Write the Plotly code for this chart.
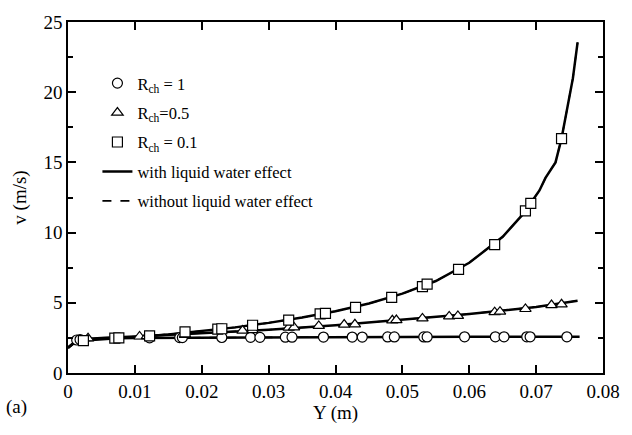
import plotly.graph_objects as go

# ---------------- data ----------------
# R_ch = 0.1 (squares)
sq_line_x = [0, 0.001, 0.002, 0.005, 0.01, 0.015, 0.02, 0.025, 0.03, 0.035, 0.04, 0.045,
             0.05, 0.055, 0.06, 0.065, 0.068, 0.0705, 0.0714, 0.0729, 0.0738, 0.0746, 0.0755, 0.0762]
sq_line_y = [1.8, 2.15, 2.3, 2.42, 2.57, 2.75, 2.98, 3.25, 3.57, 3.95, 4.4, 4.95,
             5.65, 6.55, 7.85, 9.7, 11.3, 13.0, 13.9, 15.0, 16.7, 18.7, 21.0, 23.55]
sq_mk_x = [0.0023, 0.0070, 0.0076, 0.0122, 0.0175, 0.0224, 0.0230, 0.0276, 0.0330, 0.0377,
           0.0385, 0.0430, 0.0484, 0.0530, 0.0537, 0.0584, 0.0638, 0.0684, 0.0692, 0.0738]
sq_mk_y = [2.30, 2.49, 2.50, 2.65, 2.93, 3.12, 3.15, 3.40, 3.77, 4.21,
           4.25, 4.68, 5.38, 6.15, 6.33, 7.38, 9.15, 11.55, 12.08, 16.70]

# R_ch = 0.5 (triangles)
tr_line_x = [0, 0.001, 0.002, 0.005, 0.01, 0.02, 0.03, 0.04, 0.05, 0.06, 0.07, 0.0762]
tr_line_y = [1.8, 2.2, 2.4, 2.5, 2.6, 2.82, 3.08, 3.4, 3.8, 4.2, 4.7, 5.15]
tr_mk_x = [0.0030, 0.0107, 0.0118, 0.0175, 0.0261, 0.0276, 0.0330, 0.0338, 0.0375, 0.0413, 0.0429,
           0.0485, 0.0491, 0.0530, 0.0570, 0.0583, 0.0638, 0.0646, 0.0684, 0.0723, 0.0738]
tr_mk_y = [2.47, 2.60, 2.62, 2.72, 3.02, 3.05, 3.23, 3.25, 3.35, 3.45, 3.47,
           3.75, 3.77, 3.89, 4.03, 4.07, 4.33, 4.37, 4.56, 4.84, 4.89]

# R_ch = 1 (circles)
ci_line_x = [0, 0.001, 0.002, 0.005, 0.01, 0.02, 0.03, 0.04, 0.05, 0.06, 0.07, 0.0765]
ci_line_y = [1.8, 2.2, 2.38, 2.45, 2.5, 2.53, 2.55, 2.56, 2.57, 2.58, 2.58, 2.58]
ci_mk_x = [0.0013, 0.0018, 0.0122, 0.0167, 0.0171, 0.0230, 0.0273, 0.0287, 0.0325, 0.0335, 0.0382,
           0.0425, 0.0440, 0.0478, 0.0488, 0.0532, 0.0537, 0.0593, 0.0639, 0.0652, 0.0686, 0.0691, 0.0746]
ci_mk_y = [2.35, 2.38, 2.50, 2.52, 2.52, 2.53, 2.54, 2.54, 2.55, 2.55, 2.56,
           2.56, 2.56, 2.57, 2.57, 2.57, 2.57, 2.58, 2.58, 2.58, 2.58, 2.58, 2.58]

x_ticks = [0, 0.01, 0.02, 0.03, 0.04, 0.05, 0.06, 0.07, 0.08]
x_tick_labels = ["0", "0.01", "0.02", "0.03", "0.04", "0.05", "0.06", "0.07", "0.08"]
y_ticks = [0, 5, 10, 15, 20, 25]

FONT = "Liberation Serif"
fig = go.Figure()

lines = [(ci_line_x, ci_line_y), (tr_line_x, tr_line_y), (sq_line_x, sq_line_y)]
# dashed: without liquid water effect
for i, (lx, ly) in enumerate(lines):
    fig.add_trace(go.Scatter(x=lx, y=ly, mode="lines",
                             line=dict(color="black", width=1.6, dash="dash"),
                             name="without liquid water effect", legendgroup="wo",
                             showlegend=False, legendrank=5))
# solid: with liquid water effect
for i, (lx, ly) in enumerate(lines):
    fig.add_trace(go.Scatter(x=lx, y=ly, mode="lines",
                             line=dict(color="black", width=2.5),
                             name="with liquid water effect", legendgroup="w",
                             showlegend=(i == 0), legendrank=4))
fig.add_trace(go.Scatter(x=[None], y=[None], mode="lines",
                         line=dict(color="black", width=1.6, dash="dash"),
                         name="without liquid water effect", legendgroup="wo", legendrank=5))

markers = [
    (ci_mk_x, ci_mk_y, "circle", "R<sub>ch</sub> = 1", 1, 10, "c"),
    (tr_mk_x, tr_mk_y, "triangle-up", "R<sub>ch</sub>=0.5", 2, 10, "t"),
    (sq_mk_x, sq_mk_y, "square", "R<sub>ch</sub> = 0.1", 3, 10, "s"),
]
for mx, my, sym, nm, rk, sz, grp in markers:
    fig.add_trace(go.Scatter(x=mx, y=my, mode="markers",
                             marker=dict(symbol=sym, size=sz, color="white",
                                         line=dict(color="black", width=1.2)),
                             name=nm, legendrank=rk, legendgroup=grp))

axis_common = dict(showline=True, linecolor="black", linewidth=1.5, mirror="allticks",
                   ticks="inside", ticklen=8, tickwidth=1.5, tickcolor="black",
                   showgrid=False, zeroline=False,
                   tickfont=dict(family=FONT, size=19, color="black"))

fig.update_xaxes(range=[0, 0.08], tickvals=x_ticks, ticktext=x_tick_labels,
                 title=dict(text="Y (m)", font=dict(family=FONT, size=19, color="black"), standoff=0),
                 **axis_common)
fig.update_yaxes(range=[0, 25], tickvals=y_ticks,
                 minor=dict(ticks="inside", ticklen=5, tickwidth=1.5, tickcolor="black", dtick=2.5),
                 title=dict(text="v (m/s)", font=dict(family=FONT, size=19, color="black"), standoff=12),
                 **axis_common)

fig.add_annotation(text="(a)", xref="paper", yref="paper", x=-0.12, y=-0.097,
                   xanchor="left", yanchor="middle", showarrow=False,
                   font=dict(family=FONT, size=19, color="black"))

fig.update_layout(
    width=632, height=435,
    margin=dict(l=68, r=26, t=15, b=62),
    plot_bgcolor="white", paper_bgcolor="white",
    font=dict(family=FONT, size=16, color="black"),
    legend=dict(x=0.055, y=0.875, xanchor="left", yanchor="top",
                bgcolor="rgba(0,0,0,0)", font=dict(family=FONT, size=16.5, color="black"),
                traceorder="grouped", itemwidth=30, tracegroupgap=5),
)

fig.write_html("out.html")
